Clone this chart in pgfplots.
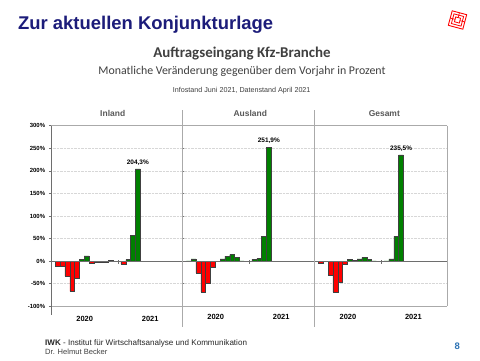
\documentclass[border=0pt]{standalone}
\usepackage{fontspec}
\setmainfont{Liberation Sans}
\newfontfamily\calibri{Carlito}
\usepackage{pgfplots}
\pgfplotsset{compat=1.18}

\definecolor{navy}{RGB}{28,28,122}
\definecolor{txtgray}{RGB}{64,64,64}
\definecolor{ttlgray}{RGB}{89,89,89}
\definecolor{gridgray}{RGB}{215,215,215}
\definecolor{linegray}{RGB}{170,170,170}
\definecolor{zerogray}{RGB}{110,110,110}
\definecolor{barred}{RGB}{255,0,0}
\definecolor{bargreen}{RGB}{0,128,0}
\definecolor{pageblue}{RGB}{46,116,181}

\pgfplotsset{
  panel/.style={
    scale only axis, height=180.6bp,
    ymin=-100, ymax=300, xmin=-0.32,
    axis line style={draw=none},
    ytick={-100,-50,...,300}, yticklabels={},
    ymajorgrids, grid style={gridgray, densely dotted, line width=0.5pt},
    extra y ticks={-100,300}, extra y tick labels={},
    extra y tick style={grid style={linegray, solid, line width=0.6pt}, ytick style={draw=none}},
    xtick={6.6,20.15}, xticklabels={2020,2021},
    xtick style={draw=none}, ytick style={draw=none},
    xticklabel style={font=\fontsize{7.5}{8}\selectfont\bfseries, anchor=base, inner sep=0pt, yshift=-12.7bp},
    clip=false,
  },
  negbar/.style={ybar, bar width=1, bar shift=0pt, fill=barred, draw=black!75, line width=0.4pt},
  posbar/.style={ybar, bar width=1, bar shift=0pt, fill=bargreen, draw=black!75, line width=0.4pt},
  lblbar/.style={ybar, bar width=1, bar shift=0pt, draw=none, fill=none, nodes near coords={#1},
    every node near coord/.append style={font=\fontsize{6.5}{7}\selectfont\bfseries, anchor=base, inner sep=0pt, yshift=4.5bp}},
}

\begin{document}
\begin{tikzpicture}[x=1bp, y=1bp]
\path[use as bounding box] (0,0) rectangle (480,360);
\fill[white] (0,0) rectangle (480,360);

% headings
\node[anchor=base west, inner sep=0pt, font=\fontsize{18.5}{20}\selectfont\bfseries, text=navy] at (18,330.7) {Zur aktuellen Konjunkturlage};
\node[anchor=base, inner sep=0pt, font=\calibri\fontsize{15}{17}\selectfont\bfseries, text=txtgray] at (242,302.7) {Auftragseingang Kfz-Branche};
\node[anchor=base, inner sep=0pt, font=\calibri\fontsize{11.9}{13}\selectfont, text=txtgray] at (242,286) {Monatliche Veränderung gegenüber dem Vorjahr in Prozent};
\node[anchor=base, inner sep=0pt, font=\fontsize{7.2}{8}\selectfont, text=txtgray] at (241.7,267.3) {Infostand Juni 2021, Datenstand April 2021};

% logo
\begin{scope}[shift={(457.5,340)}, rotate=-15]
  \draw[red, line width=0.9pt] (-7.5,-7.5) rectangle (7.5,7.5);
  \draw[red, line width=0.8pt] (-5,-5) rectangle (5,5);
  \draw[red, line width=0.8pt] (-2.5,-2.5) rectangle (2.5,2.5);
  \draw[red, line width=0.7pt] (-7.5,0) -- (-2.5,0) (2.5,0) -- (7.5,0) (0,2.5) -- (0,7.5);
\end{scope}

% panel titles
\node[anchor=base, inner sep=0pt, font=\fontsize{8.5}{9}\selectfont\bfseries, text=ttlgray] at (112.7,243.5) {Inland};
\node[anchor=base, inner sep=0pt, font=\fontsize{8.5}{9}\selectfont\bfseries, text=ttlgray] at (250.3,243.5) {Ausland};
\node[anchor=base, inner sep=0pt, font=\fontsize{8.5}{9}\selectfont\bfseries, text=ttlgray] at (384.3,243.5) {Gesamt};

% Inland
\begin{axis}[panel, at={(51.3bp,53.7bp)}, anchor=south west, width=131bp, xmax=26.8,
  yticklabels={-100\%,-50\%,0\%,50\%,100\%,150\%,200\%,250\%,300\%},
  ytick style={draw=zerogray, line width=0.5pt}, tick align=outside, major tick length=2.5bp,
  yticklabel style={font=\fontsize{6}{7}\selectfont\bfseries, inner sep=0pt, anchor=east, xshift=-3.5bp}]
  \addplot[negbar] coordinates {(1,-10.3) (2,-10.3) (3,-33) (4,-67) (5,-38) (8,-4) (9,-2) (10,-1.5) (11,-2) (14.6,-6.6)};
  \addplot[posbar] coordinates {(6,3.7) (7,11.8) (12,1.2) (13,0.3) (15.6,3.5) (16.6,57) (17.6,204.3)};
  \addplot[lblbar={204,3\%}] coordinates {(17.6,204.3)};
  \draw[zerogray, line width=0.6pt] (axis cs:-0.32,0) -- (axis cs:26.8,0);
  \draw[zerogray, line width=0.5pt] (axis cs:13.5,2) -- (axis cs:13.5,-6);
\end{axis}

% Ausland
\begin{axis}[panel, at={(182.3bp,53.7bp)}, anchor=south west, width=132.2bp, xmax=27.05]
  \addplot[negbar] coordinates {(3,-26) (4,-68) (5,-49.5) (6,-12.5) (7,-0.5)};
  \addplot[posbar] coordinates {(1,0.5) (2,5) (8,5) (9,11) (10,14.5) (11,8) (12,0.5) (13,0.2) (14.6,4) (15.6,6) (16.6,54.6) (17.6,251.9)};
  \addplot[lblbar={251,9\%}] coordinates {(17.6,251.9)};
  \draw[zerogray, line width=0.6pt] (axis cs:-0.32,0) -- (axis cs:27.05,0);
  \draw[zerogray, line width=0.5pt] (axis cs:13.5,2) -- (axis cs:13.5,-6);
\end{axis}

% Gesamt
\begin{axis}[panel, at={(314.5bp,53.7bp)}, anchor=south west, width=132.5bp, xmax=27.11]
  \addplot[negbar] coordinates {(1,-4) (2,-0.5) (3,-30.5) (4,-68.3) (5,-46.5) (6,-7.2)};
  \addplot[posbar] coordinates {(7,3.9) (8,2.2) (9,5.3) (10,8.3) (11,4.6) (12,0.8) (13,0.3) (14.6,0.5) (15.6,5) (16.6,55) (17.6,235.5)};
  \addplot[lblbar={235,5\%}] coordinates {(17.6,235.5)};
  \draw[zerogray, line width=0.6pt] (axis cs:-0.32,0) -- (axis cs:27.11,0);
  \draw[zerogray, line width=0.5pt] (axis cs:13.5,2) -- (axis cs:13.5,-6);
\end{axis}

% frame lines
\draw[zerogray, line width=0.6pt] (51.3,234.3) -- (51.3,45);
\draw[linegray, line width=0.6pt] (182.3,250) -- (182.3,33);
\draw[linegray, line width=0.6pt] (314.5,250) -- (314.5,33);
\draw[linegray, line width=0.6pt] (447,234.3) -- (447,53.7);

% footer
\node[anchor=base west, inner sep=0pt, font=\fontsize{8.1}{9}\selectfont, text=txtgray!60!black] at (45,14.3) {\textbf{IWK} - Institut für Wirtschaftsanalyse und Kommunikation};
\node[anchor=base west, inner sep=0pt, font=\fontsize{7.6}{8}\selectfont, text=txtgray] at (45,5.7) {Dr. Helmut Becker};
\node[anchor=base, inner sep=0pt, font=\fontsize{9.5}{10}\selectfont\bfseries, text=pageblue] at (457.2,11) {8};
\end{tikzpicture}
\end{document}
